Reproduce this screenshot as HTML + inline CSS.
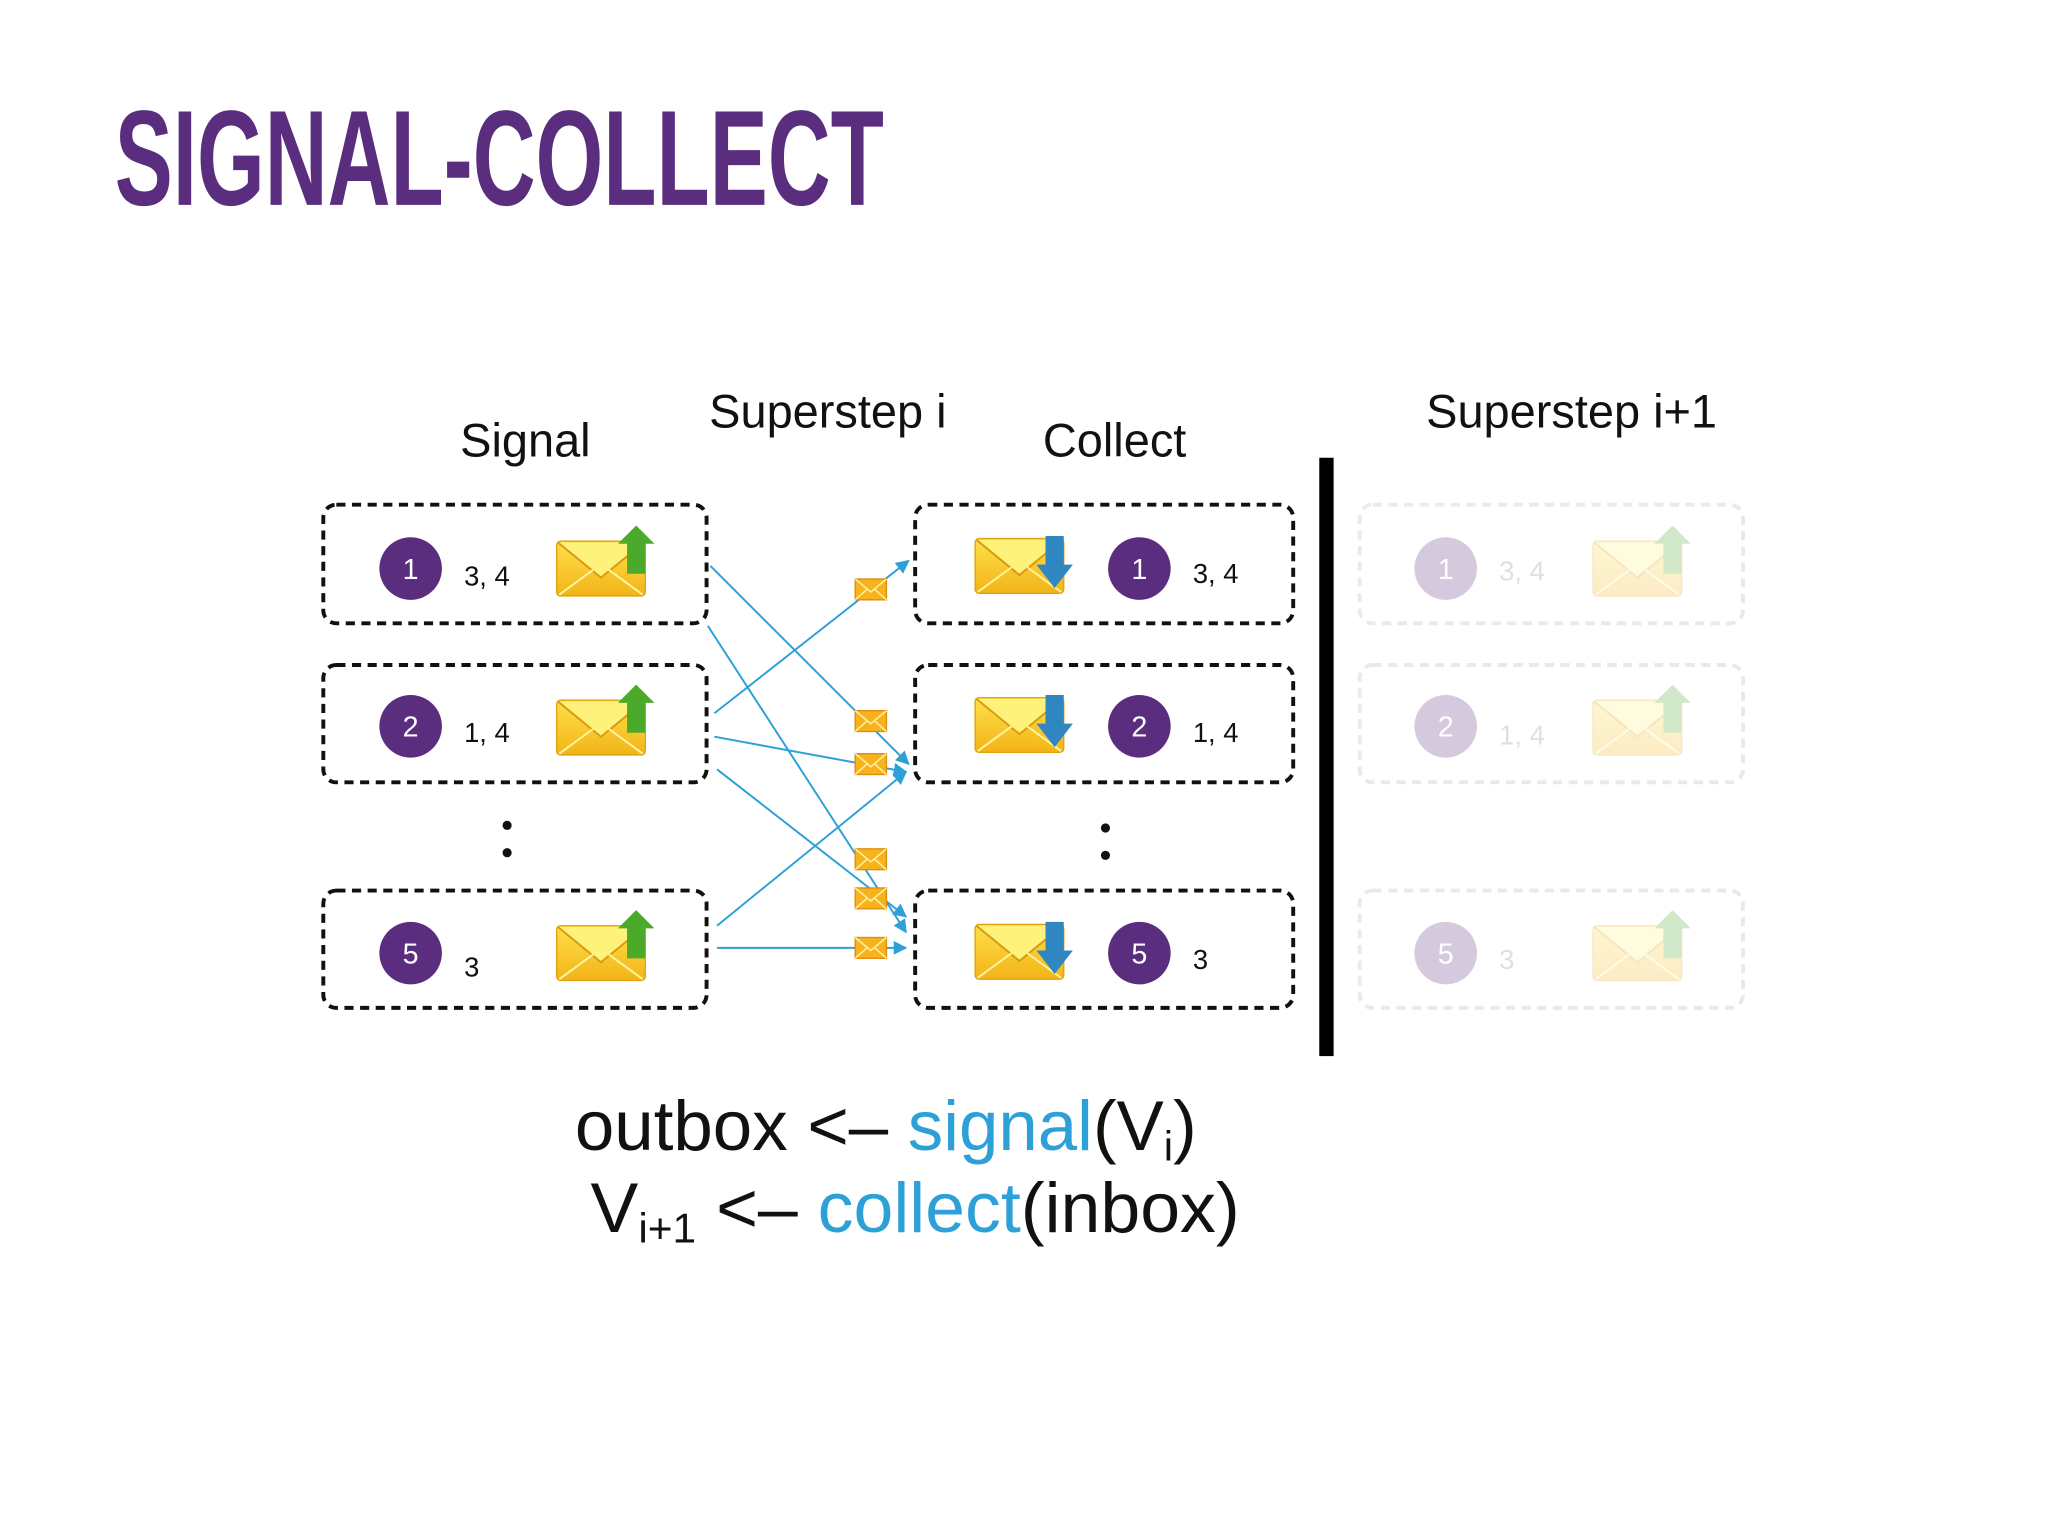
<!DOCTYPE html>
<html><head><meta charset="utf-8"><style>
html,body{margin:0;padding:0;background:#fff;}
svg{display:block;}
</style></head><body>
<svg width="2048" height="1536" viewBox="0 0 1571 1178" xmlns="http://www.w3.org/2000/svg" font-family="Liberation Sans, sans-serif">
<defs>
<linearGradient id="env" x1="0" y1="0" x2="0" y2="1">
<stop offset="0" stop-color="#ffe04a"/><stop offset="1" stop-color="#f2b418"/>
</linearGradient>
<marker id="ah" viewBox="0 0 10 10" refX="9" refY="5" markerWidth="7" markerHeight="7" orient="auto"><path d="M0,0 L10,5 L0,10 z" fill="#2ea0d8"/></marker>
<g id="envbig">
<rect x="0" y="12" width="68" height="42" rx="3" fill="url(#env)" stroke="#e0a010" stroke-width="1"/>
<path d="M1,13 L34,40 L67,13" fill="#fff27a" stroke="#d89a10" stroke-width="1.5"/>
<path d="M2,53 L28,34 M66,53 L40,34" stroke="#fff5a0" stroke-width="1.5" fill="none"/>
</g>
<g id="up"><use href="#envbig"/><path d="M54,37 L54,14 L47,14 L61,0 L75,14 L68,14 L68,37 z" fill="#4caa2a"/></g>
<g id="down"><use href="#envbig"/><path d="M54,10 L68,10 L68,32 L75,32 L61,50 L47,32 L54,32 z" fill="#2f86c0"/></g>
<g id="sm">
<rect x="-12" y="-8" width="24" height="16" fill="#f7b21c" stroke="#e08a10"/>
<path d="M-12,-8 L0,2 L12,-8 M-12,8 L-3,0 M12,8 L3,0" stroke="#fff1a0" stroke-width="1.2" fill="none"/>
</g>
</defs>

<text x="88" y="157" font-family="Liberation Sans Narrow, Liberation Sans, sans-serif" font-weight="bold" font-size="104" fill="#5b2d7e" textLength="590" lengthAdjust="spacingAndGlyphs">SIGNAL-COLLECT</text>

<g font-size="36" fill="#111">
<text x="353" y="350">Signal</text>
<text x="544" y="328">Superstep i</text>
<text x="800" y="350">Collect</text>
<text x="1094" y="328">Superstep i+1</text>
</g>

<g fill="none" stroke="#111" stroke-width="3" stroke-dasharray="7,5">
<rect x="248" y="387" width="294" height="91" rx="10"/>
<rect x="248" y="510" width="294" height="90" rx="10"/>
<rect x="248" y="683" width="294" height="90" rx="10"/>
<rect x="702" y="387" width="290" height="91" rx="10"/>
<rect x="702" y="510" width="290" height="90" rx="10"/>
<rect x="702" y="683" width="290" height="90" rx="10"/>
</g>

<g font-size="21" fill="#111">
<circle cx="315" cy="436" r="24" fill="#5b2d7e"/><text x="315" y="444" font-size="22" fill="#fff" text-anchor="middle">1</text><text x="356" y="449">3, 4</text>
<circle cx="315" cy="557" r="24" fill="#5b2d7e"/><text x="315" y="565" font-size="22" fill="#fff" text-anchor="middle">2</text><text x="356" y="569">1, 4</text>
<circle cx="315" cy="731" r="24" fill="#5b2d7e"/><text x="315" y="739" font-size="22" fill="#fff" text-anchor="middle">5</text><text x="356" y="749">3</text>
<use href="#up" x="427" y="403"/><use href="#up" x="427" y="525"/><use href="#up" x="427" y="698"/>
</g>
<g font-size="21" fill="#111">
<use href="#down" x="748" y="401"/><use href="#down" x="748" y="523"/><use href="#down" x="748" y="697"/>
<circle cx="874" cy="436" r="24" fill="#5b2d7e"/><text x="874" y="444" font-size="22" fill="#fff" text-anchor="middle">1</text><text x="915" y="447">3, 4</text>
<circle cx="874" cy="557" r="24" fill="#5b2d7e"/><text x="874" y="565" font-size="22" fill="#fff" text-anchor="middle">2</text><text x="915" y="569">1, 4</text>
<circle cx="874" cy="731" r="24" fill="#5b2d7e"/><text x="874" y="739" font-size="22" fill="#fff" text-anchor="middle">5</text><text x="915" y="743">3</text>
</g>

<g fill="#111">
<circle cx="389" cy="633" r="3.5"/><circle cx="389" cy="654" r="3.5"/>
<circle cx="848" cy="635" r="3.5"/><circle cx="848" cy="656" r="3.5"/>
</g>

<g stroke="#2ea0d8" stroke-width="1.5" fill="none" marker-end="url(#ah)">
<line x1="545" y1="434" x2="697" y2="586"/>
<line x1="543" y1="480" x2="695" y2="715"/>
<line x1="548" y1="547" x2="697" y2="430"/>
<line x1="548" y1="565" x2="695" y2="592"/>
<line x1="550" y1="590" x2="695" y2="703"/>
<line x1="550" y1="710" x2="695" y2="592"/>
<line x1="550" y1="727" x2="695" y2="727"/>
</g>
<use href="#sm" x="668" y="452"/>
<use href="#sm" x="668" y="553"/>
<use href="#sm" x="668" y="586"/>
<use href="#sm" x="668" y="659"/>
<use href="#sm" x="668" y="689"/>
<use href="#sm" x="668" y="727"/>

<rect x="1012" y="351" width="11" height="459" fill="#000"/>

<g opacity="0.25">
<g fill="none" stroke="#aaa" stroke-width="3" stroke-dasharray="7,5">
<rect x="1043" y="387" width="294" height="91" rx="10"/>
<rect x="1043" y="510" width="294" height="90" rx="10"/>
<rect x="1043" y="683" width="294" height="90" rx="10"/>
</g>
<g font-size="21" fill="#888">
<circle cx="1109" cy="436" r="24" fill="#5b2d7e"/><text x="1109" y="444" font-size="22" fill="#fff" text-anchor="middle">1</text><text x="1150" y="445">3, 4</text>
<circle cx="1109" cy="557" r="24" fill="#5b2d7e"/><text x="1109" y="565" font-size="22" fill="#fff" text-anchor="middle">2</text><text x="1150" y="571">1, 4</text>
<circle cx="1109" cy="731" r="24" fill="#5b2d7e"/><text x="1109" y="739" font-size="22" fill="#fff" text-anchor="middle">5</text><text x="1150" y="743">3</text>
<use href="#up" x="1222" y="403"/><use href="#up" x="1222" y="525"/><use href="#up" x="1222" y="698"/>
</g>
</g>

<g font-size="54" fill="#111">
<text x="441" y="882" textLength="477" lengthAdjust="spacingAndGlyphs">outbox &lt;– <tspan fill="#2ea0d8">signal</tspan>(V<tspan font-size="32" dy="8">i</tspan><tspan dy="-8">)</tspan></text>
<text x="453" y="945" textLength="498" lengthAdjust="spacingAndGlyphs">V<tspan font-size="32" dy="8">i+1</tspan><tspan dy="-8"> &lt;– </tspan><tspan fill="#2ea0d8">collect</tspan>(inbox)</text>
</g>
</svg>
</body></html>
